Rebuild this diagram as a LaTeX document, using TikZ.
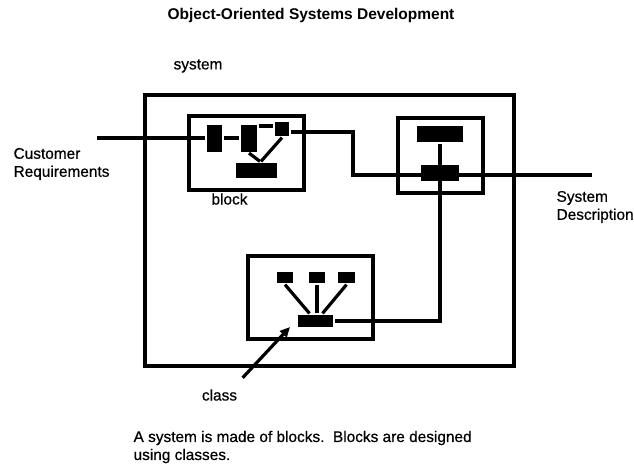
\documentclass[tikz,border=0pt]{standalone}
\usepackage{fontspec}
\setmainfont{Liberation Sans}
\newfontface\lblfont{Liberation Sans}[FakeBold=0.6]
\usetikzlibrary{positioning,arrows.meta,calc}

\begin{document}
\begin{tikzpicture}[x=1pt,y=-1pt,line width=3.2pt,
    box/.style={draw,inner sep=0pt},
    bar/.style={fill=black,inner sep=0pt},
    lbl/.style={font=\lblfont\fontsize{15.4}{18}\selectfont,inner sep=0pt,align=left},
    arr/.style={-{Triangle[length=10pt,width=9pt]}}]
  \useasboundingbox (0,0) rectangle (634,471);

  \node[font=\bfseries\fontsize{15.5}{18}\selectfont] (title) at (311,15) {Object-Oriented Systems Development};
  \node[lbl] (sysl) at (198,66) {system};

  % boxes
  \node[box,minimum width=369pt,minimum height=271pt] (sys) at (329.5,230.5) {};
  \node[box,minimum width=115pt,minimum height=74pt] (blk) at (246.5,153) {};
  \node[box,minimum width=85pt,minimum height=75pt] (rblk) at (440.5,155.5) {};
  \node[box,minimum width=125pt,minimum height=83pt] (cbox) at (310.5,297.5) {};

  % block parts
  \node[bar,minimum width=15pt,minimum height=27pt] (b1) at (214.5,138) {};
  \node[bar,minimum width=16pt,minimum height=27pt] (b2) at (249,138) {};
  \node[bar,minimum width=14pt,minimum height=14pt] (b3) at (282,129) {};
  \node[bar,minimum width=41pt,minimum height=15pt] (b4) at (256,170.5) {};
  \node[bar,minimum width=46pt,minimum height=16pt] (r1) at (440,134) {};
  \node[bar,minimum width=38pt,minimum height=16pt] (r2) at (440,173) {};

  % class parts
  \node[bar,minimum width=16pt,minimum height=11pt] (c1) at (285,277.5) {};
  \node[bar,minimum width=16pt,minimum height=11pt] (c2) at (317,277.5) {};
  \node[bar,minimum width=17pt,minimum height=11pt] (c3) at (346.5,277.5) {};
  \node[bar,minimum width=35pt,minimum height=12pt] (c4) at (315.5,321) {};

  \coordinate (cin) at (97,138);
  \coordinate (bend) at (353,175);
  \coordinate (cout) at (592,175);
  \coordinate (tip) at (290,327);

  % connectors
  \draw (cin) -- (b1) -- (b2);
  \draw ($(b2.east)+(0,-12)$) -- ($(b3.west)+(0,-3)$);
  \draw ($(b3.east)+(0,3)$) -| (bend) -- (cout);
  \draw (b2.south) -- ($(b4.north)+(4,0)$);
  \draw (b3.south) -- ($(b4.north)+(5,0)$);
  \draw (r1) |- (c4);
  \draw (c1.south) -- ($(c4.north)+(-6,0)$);
  \draw (c2.south) -- (c4.north -| c2);
  \draw (c3.south) -- ($(c4.north)+(7,0)$);

  % labels
  \node[lbl,anchor=west] (cust) at (12,164) {Customer\\Requirements};
  \node[lbl] (blkl) at (229.5,199) {block};
  \node[lbl,anchor=west] (sdesc) at (555,207) {System\\Description};
  \node[lbl] (cls) at (219.5,395) {class};
  \node[lbl,anchor=west] (note) at (132,447) {A system is made of blocks.\ \ Blocks are designed\\using classes.};

  \draw[arr] ([xshift=4pt,yshift=10pt]cls.north east) -- (tip);
\end{tikzpicture}
\end{document}
